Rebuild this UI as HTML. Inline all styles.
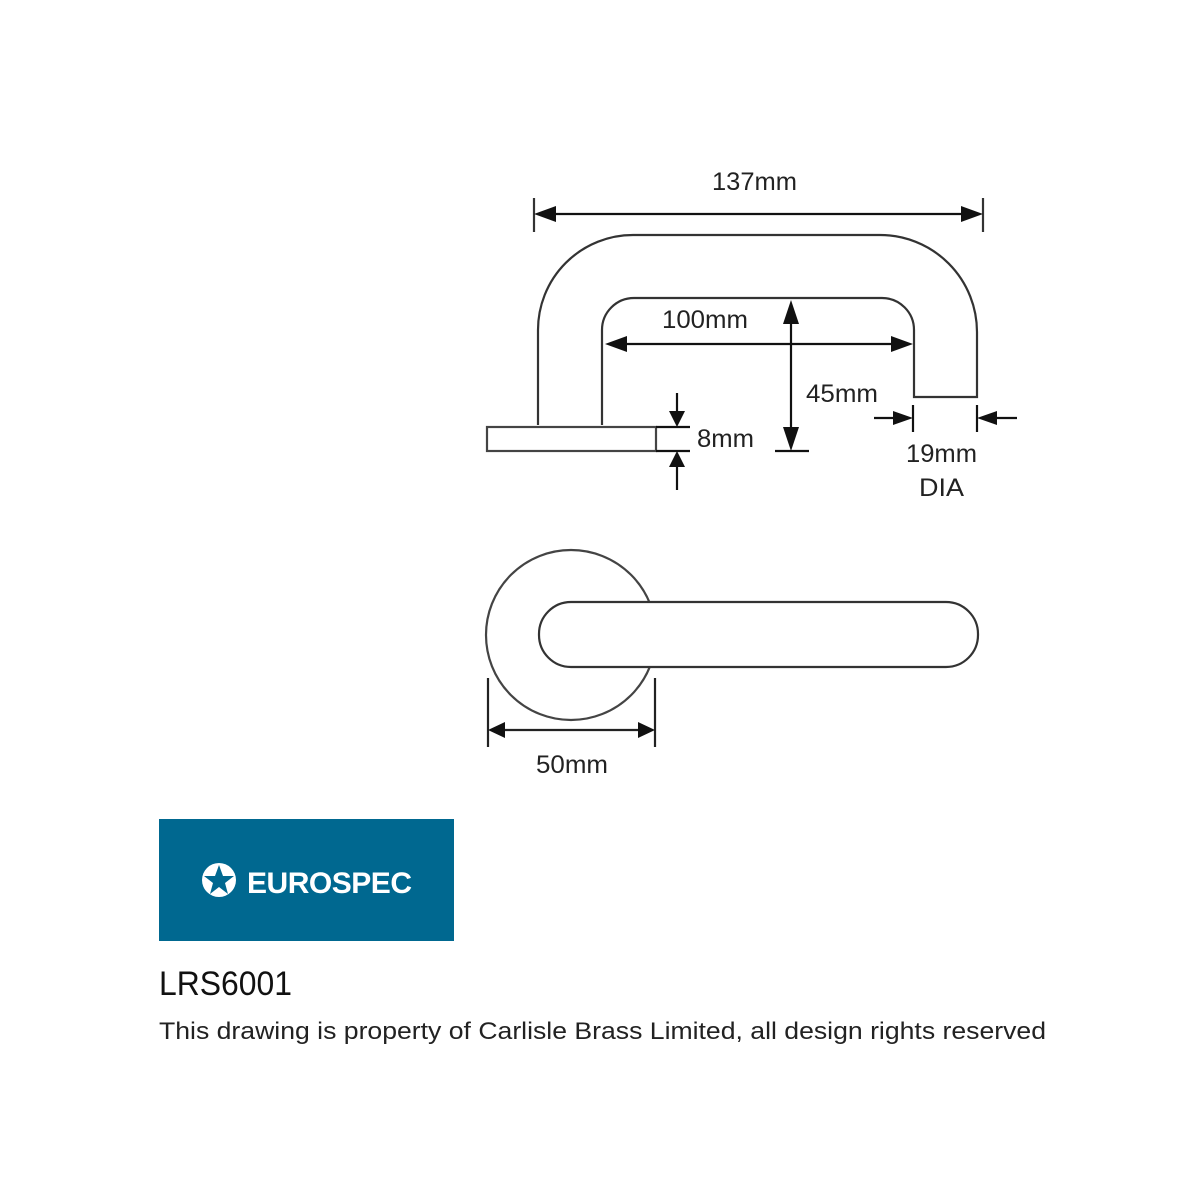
<!DOCTYPE html>
<html><head><meta charset="utf-8"><style>html,body{margin:0;padding:0;background:#fff}svg{display:block}</style></head>
<body>
<svg width="1200" height="1200" viewBox="0 0 1200 1200" xmlns="http://www.w3.org/2000/svg">
<g fill="none" stroke="#333" stroke-width="2.2">
<path d="M538 425 L538 330 A95 95 0 0 1 633 235 L880 235 A97 97 0 0 1 977 332 L977 397 L914 397 L914 330 A32 32 0 0 0 882 298 L634 298 A32 32 0 0 0 602 330 L602 425"/>
<rect x="487" y="427" width="169" height="24" stroke="#444"/>
<line x1="534" y1="198" x2="534" y2="232"/>
<line x1="983" y1="198" x2="983" y2="232"/>
<line x1="540" y1="214" x2="978" y2="214" stroke="#111"/>
<line x1="612" y1="344" x2="905" y2="344" stroke="#111"/>
<line x1="791" y1="308" x2="791" y2="445" stroke="#111"/>
<line x1="775" y1="451" x2="809" y2="451" stroke="#111"/>
<line x1="656" y1="427" x2="690" y2="427" stroke="#111"/>
<line x1="656" y1="451" x2="690" y2="451" stroke="#111"/>
<line x1="677" y1="393" x2="677" y2="420" stroke="#111"/>
<line x1="677" y1="460" x2="677" y2="490" stroke="#111"/>
<line x1="913" y1="405" x2="913" y2="432" stroke="#111"/>
<line x1="977" y1="405" x2="977" y2="432" stroke="#111"/>
<line x1="874" y1="418" x2="905" y2="418" stroke="#111"/>
<line x1="985" y1="418" x2="1017" y2="418" stroke="#111"/>
<circle cx="571" cy="635" r="85" stroke="#444"/>
<rect x="539" y="602" width="439" height="65" rx="32" fill="#fff" stroke="#333"/>
<line x1="488" y1="678" x2="488" y2="747" stroke="#222"/>
<line x1="655" y1="678" x2="655" y2="747" stroke="#222"/>
<line x1="495" y1="730" x2="648" y2="730" stroke="#222"/>
</g>
<g fill="#111">
<polygon points="534,214 556,206 556,222"/>
<polygon points="983,214 961,206 961,222"/>
<polygon points="605,344 627,336 627,352"/>
<polygon points="913,344 891,336 891,352"/>
<polygon points="791,300 783,324 799,324"/>
<polygon points="791,451 783,427 799,427"/>
<polygon points="677,427 669,411 685,411"/>
<polygon points="677,451 669,467 685,467"/>
<polygon points="913,418 893,411 893,425"/>
<polygon points="977,418 997,411 997,425"/>
<polygon points="488,730 505,722 505,738"/>
<polygon points="655,730 638,722 638,738"/>
</g>
<g font-family="Liberation Sans, sans-serif" font-size="25" fill="#222">
<text x="712" y="190" textLength="85" lengthAdjust="spacingAndGlyphs">137mm</text>
<text x="662" y="328" textLength="86" lengthAdjust="spacingAndGlyphs">100mm</text>
<text x="806" y="402" textLength="72" lengthAdjust="spacingAndGlyphs">45mm</text>
<text x="697" y="447" textLength="57" lengthAdjust="spacingAndGlyphs">8mm</text>
<text x="906" y="462" textLength="71" lengthAdjust="spacingAndGlyphs">19mm</text>
<text x="919" y="496" textLength="45" lengthAdjust="spacingAndGlyphs">DIA</text>
<text x="536" y="773" textLength="72" lengthAdjust="spacingAndGlyphs">50mm</text>
</g>
<rect x="159" y="819" width="295" height="122" fill="#006890"/>
<circle cx="219" cy="880" r="17" fill="#fff"/>
<polygon fill="#006890" points="219,865 223,876 234,876 225,883 228,894 219,887 210,894 213,883 204,876 215,876"/>
<text x="247" y="893" font-family="Liberation Sans, sans-serif" font-weight="bold" font-size="30" fill="#fff" textLength="165" lengthAdjust="spacing">EUROSPEC</text>
<text x="159" y="995" font-family="Liberation Sans, sans-serif" font-size="34" fill="#111" textLength="133" lengthAdjust="spacingAndGlyphs">LRS6001</text>
<text x="159" y="1039" font-family="Liberation Sans, sans-serif" font-size="24" fill="#222" textLength="887" lengthAdjust="spacingAndGlyphs">This drawing is property of Carlisle Brass Limited, all design rights reserved</text>
</svg>
</body></html>
